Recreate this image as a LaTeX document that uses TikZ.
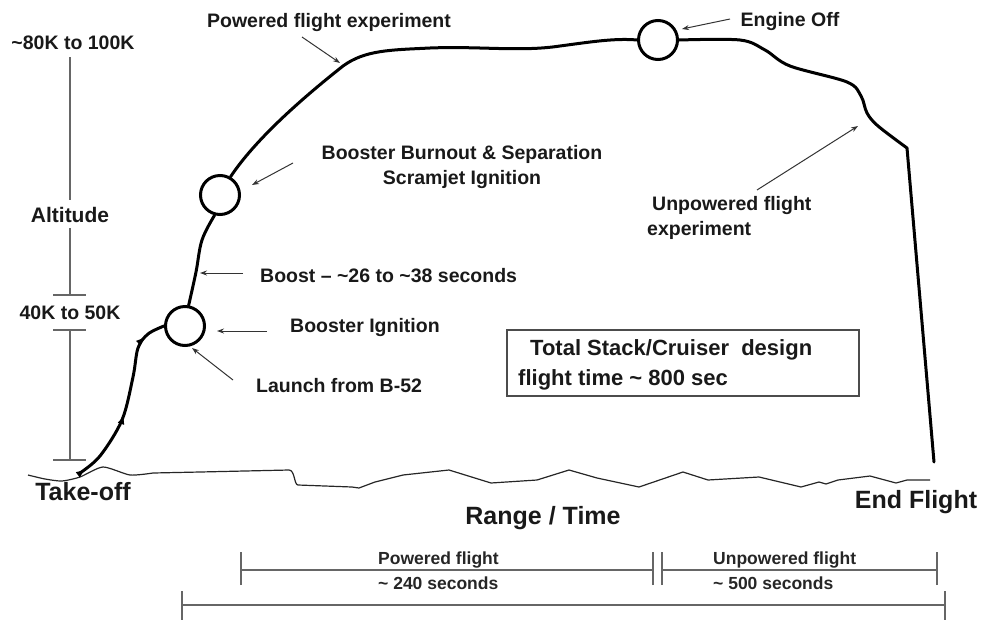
\documentclass[tikz,border=0pt]{standalone}
\usepackage{fontspec}
\setmainfont{Liberation Sans}
\usetikzlibrary{arrows.meta,decorations.markings}
\begin{document}
\begin{tikzpicture}[x=1pt,y=-1pt,
  lbl/.style={font=\fontsize{19.5}{24.5}\selectfont\bfseries, text=black!90, inner sep=0},
  big/.style={font=\fontsize{25}{30}\selectfont\bfseries, text=black!90, inner sep=0},
  boxtxt/.style={font=\fontsize{22}{27}\selectfont\bfseries, text=black!90, inner sep=0},
  small/.style={font=\fontsize{17.5}{21}\selectfont\bfseries, text=black!85, inner sep=0},
  traj/.style={line width=3pt, black, line cap=round, line join=round},
  event/.style={circle, draw=black, line width=3pt, minimum size=39pt, inner sep=0},
  note/.style={draw=black!80, line width=1pt, -{Stealth[length=7pt,width=5pt]}},
  axis/.style={draw=black!60, line width=1.5pt},
  ground/.style={draw=black!85, line width=1.2pt, line join=round},
  marked/.style={postaction={decorate, decoration={markings,
     mark=at position 0.04 with {\arrow{Latex[length=10pt,width=7pt]}},
     mark=at position 0.42 with {\arrow{Latex[length=10pt,width=7pt]}},
     mark=at position 0.88 with {\arrow{Latex[length=10pt,width=7pt]}}}}}
]
\useasboundingbox (0,0) rectangle (982,619);

% altitude axis
\node[lbl] (t80) at (73,43) {\textasciitilde80K to 100K};
\node[lbl, font=\fontsize{21}{25}\selectfont\bfseries] (alt) at (70,215) {Altitude};
\node[lbl] (k40) at (70,313) {40K to 50K};
\coordinate (a0) at (70,57);
\coordinate (a1) at (70,200);
\coordinate (a2) at (70,228);
\coordinate (a3) at (70,295);
\coordinate (a4) at (70,330);
\coordinate (a5) at (70,460);
\draw[axis] (a0) -- (a1);
\draw[axis] (a2) -- (a3);
\draw[axis] ([xshift=-17pt]a3) -- ([xshift=16pt]a3);
\draw[axis] (a4) -- (a5);
\draw[axis] ([xshift=-17pt]a4) -- ([xshift=16pt]a4);
\draw[axis] ([xshift=-17pt]a5) -- ([xshift=16pt]a5);

% ground
\draw[ground] plot[smooth, tension=0.4] coordinates {(28,475) (45,479) (62,481) (80,477) (103,467) (130,475) (153,473)}
  -- (200,472) -- (289,470) .. controls (295,470) and (294,485) .. (298,485)
  -- (352,487) -- (359,488) -- (375,482) -- (403,475) -- (449,470) -- (491,483)
  -- (537,480) -- (569,470) -- (597,478) -- (639,487) -- (683,472) -- (708,480)
  -- (759,477) -- (801,487) -- (819,482) -- (826,484) -- (838,480) -- (870,476)
  -- (896,483) -- (907,480) -- (930,480);

% event circles
\node[event] (c1) at (185,326) {};
\node[event] (c2) at (220,195) {};
\node[event] (c3) at (658,40) {};

% trajectory
\draw[traj, marked] plot[smooth, tension=0.55] coordinates {(80,473) (100,456) (122,420) (133,377) (138,348) (148,334) (c1.west)};
\draw[traj] plot[smooth, tension=0.6] coordinates {(c1.80) (196,272) (202,240) (c2.255)};
\draw[traj] (c2.60) .. controls (255,140) and (300,100) .. (343,66)
  .. controls (365,50) and (390,50) .. (430,48)
  .. controls (480,46) and (520,52) .. (560,46)
  .. controls (590,42) and (615,38) .. (c3.west);
\draw[traj] plot[smooth, tension=0.55] coordinates {(c3.east) (740,40) (765,50) (790,66) (847,82) (861,96) (867,113) (878,126) (907,148)} -- (934,462);

% labels
\node[lbl] (pfe) at (329,22) {Powered flight experiment};
\node[lbl] (eng) at (790,21) {Engine Off};
\node[lbl, align=center] (bbo) at (462,167) {Booster Burnout \& Separation\\Scramjet Ignition};
\node[lbl, anchor=west] (bst) at (260,276) {Boost -- \textasciitilde26 to \textasciitilde38 seconds};
\node[lbl, anchor=west] (ign) at (290,327) {Booster Ignition};
\node[lbl, anchor=west] (lch) at (256,386) {Launch from B-52};
\node[lbl, anchor=west, align=left] (upe) at (647,218) {\hspace*{5pt}Unpowered flight\\experiment};

% annotation arrows
\coordinate (pfeS) at (302,37);  \coordinate (pfeE) at (340,63);
\coordinate (engS) at (730,19);  \coordinate (engE) at (682,29);
\coordinate (bboS) at (293,163); \coordinate (bboE) at (252,185);
\coordinate (bstS) at (243,273); \coordinate (bstE) at (200,273);
\coordinate (ignS) at (267,331); \coordinate (ignE) at (217,331);
\coordinate (lchS) at (233,380); \coordinate (lchE) at (192,348);
\coordinate (upeS) at (757,190); \coordinate (upeE) at (858,126);
\draw[note] (pfeS) -- (pfeE);
\draw[note] (engS) -- (engE);
\draw[note] (bboS) -- (bboE);
\draw[note] (bstS) -- (bstE);
\draw[note] (ignS) -- (ignE);
\draw[note] (lchS) -- (lchE);
\draw[note] (upeS) -- (upeE);

% summary box
\node[draw=black!70, line width=1.5pt, minimum width=352pt, minimum height=66pt, inner sep=0] (box) at (683,363) {};
\node[boxtxt, anchor=west] (bx1) at (530,350) {Total Stack/Cruiser\ \ design};
\node[boxtxt, anchor=west] (bx2) at (518,380) {flight time \textasciitilde\ 800 sec};

% big labels
\node[big] (tko) at (83,492) {Take-off};
\node[big] (end) at (916,502) {End Flight};
\node[big] (rng) at (543,518) {Range / Time};

% timeline
\coordinate (p0) at (241,570); \coordinate (p1) at (653,570);
\coordinate (u0) at (662,570); \coordinate (u1) at (937,570);
\coordinate (f0) at (182,605); \coordinate (f1) at (945,605);
\draw[axis] (p0) -- (p1);
\draw[axis] (u0) -- (u1);
\draw[axis] (f0) -- (f1);
\foreach \c in {p0,p1,u0,u1} {\draw[axis] ([yshift=-15pt]\c) -- ([yshift=18pt]\c);}
\foreach \c in {f0,f1} {\draw[axis] ([yshift=-17pt]\c) -- ([yshift=14pt]\c);}
\node[small, anchor=west] (pw1) at (378,560) {Powered flight};
\node[small, anchor=west] (pw2) at (378,583) {\textasciitilde\ 240 seconds};
\node[small, anchor=west] (uw1) at (713,560) {Unpowered flight};
\node[small, anchor=west] (uw2) at (713,583) {\textasciitilde\ 500 seconds};
\end{tikzpicture}
\end{document}
